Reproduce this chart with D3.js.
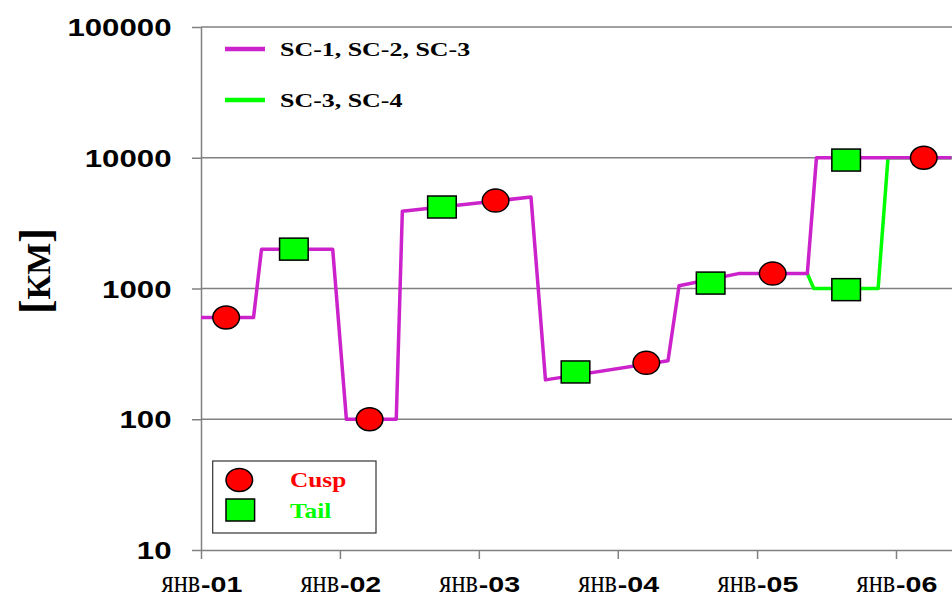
<!DOCTYPE html>
<html>
<head>
<meta charset="utf-8">
<script src="https://cdn.jsdelivr.net/npm/d3@7"></script>
<style>
  body { margin: 0; background: #fff; }
  svg { display: block; }
</style>
</head>
<body>
<svg id="chart" width="952" height="598"></svg>
<script>
// Size of the fluctuations, km (log axis), per spacecraft group
const mainDates  = ["2001-01-01","2001-05-19","2001-06-09","2001-12-13","2002-01-18","2002-05-29","2002-06-14","2003-05-18","2003-06-25","2004-05-12","2004-06-10","2004-11-13","2005-05-13","2005-06-06","2006-05-27"];
const mainValues = [600, 600, 2000, 2000, 100, 100, 3900, 5000, 200, 280, 1050, 1300, 1300, 10000, 10000];

const altDates  = ["2005-05-13","2005-05-30","2005-11-15","2005-12-11","2006-05-27"];
const altValues = [1300, 1000, 1000, 10000, 10000];

const cuspDates  = ["2001-03-08","2002-03-20","2003-02-14","2004-03-16","2005-02-11","2006-03-15"];
const cuspValues = [600, 100, 4700, 270, 1300, 10000];

const tailDates  = ["2001-09-02","2002-09-26","2003-09-12","2004-09-01","2005-08-23","2005-08-23"];
const tailValues = [2000, 4200, 230, 1100, 9600, 980];

const yTicks = [10, 100, 1000, 10000, 100000];
const xTickDates  = ["2001-01-01","2002-01-01","2003-01-01","2004-01-01","2005-01-01","2006-01-01"];
const xTickLabels = ["янв-01","янв-02","янв-03","янв-04","янв-05","янв-06"];

const seriesNames = ["SC-1, SC-2, SC-3", "SC-3, SC-4"];
const markerNames = ["Cusp", "Tail"];

const MAGENTA = "#cc22cc", GREEN = "#00ff00", RED = "#ff0000", GRID = "#808080";
const plotLeft = 201, plotRight = 952, plotTop = 27, plotBottom = 550;
const sx = 1.3; // horizontal stretch of the lettering

const parse = d3.utcParse("%Y-%m-%d");
const svg = d3.select("#chart");

const x = d3.scaleUtc()
  .domain([parse(xTickDates[0]), parse(xTickDates[xTickDates.length - 1])])
  .range([plotLeft, 896]);
const y = d3.scaleLog().domain([10, 100000]).range([plotBottom, plotTop]);

// horizontal grid lines (incl. the top frame at 100000)
svg.append("g").selectAll("line")
  .data(yTicks.filter(d => d > 10))
  .join("line")
  .attr("x1", plotLeft).attr("x2", plotRight)
  .attr("y1", d => y(d)).attr("y2", d => y(d))
  .attr("stroke", GRID).attr("stroke-width", 1.5);

// y axis
const yAxis = svg.append("g")
  .attr("transform", `translate(${plotLeft},0)`)
  .call(d3.axisLeft(y).tickValues(yTicks).tickSize(9).tickSizeOuter(0).tickFormat(d3.format("d")));
yAxis.select(".domain").attr("stroke", GRID).attr("stroke-width", 1.5);
yAxis.selectAll(".tick line").attr("stroke", GRID).attr("stroke-width", 1.5);
yAxis.selectAll(".tick text")
  .attr("x", -29.5 / sx)
  .attr("dy", "0.36em")
  .attr("transform", `scale(${sx},1)`)
  .attr("fill", "#000")
  .style("font-family", "'Liberation Sans', Arial, sans-serif")
  .style("font-weight", "bold")
  .style("font-size", "24px");

// x axis
const xAxis = svg.append("g")
  .attr("transform", `translate(0,${plotBottom})`)
  .call(d3.axisBottom(x).tickValues(xTickDates.map(parse)).tickSize(9).tickSizeOuter(0).tickFormat(""));
xAxis.select(".domain").attr("d", `M${plotLeft},0.5H${plotRight}`).attr("stroke", GRID).attr("stroke-width", 1.5);
xAxis.selectAll(".tick line").attr("stroke", GRID).attr("stroke-width", 1.5);

// x tick labels: month in serif, year in bold sans
const xl = svg.append("g").selectAll("g")
  .data(xTickDates.map((d, i) => ({ date: parse(d), label: xTickLabels[i] })))
  .join("g")
  .attr("transform", d => `translate(${x(d.date)},592)`);
xl.append("text")
  .attr("text-anchor", "end")
  .attr("transform", "scale(0.85,1)")
  .attr("x", -1)
  .style("font-family", "'Liberation Serif', 'Times New Roman', serif")
  .style("font-size", "31px")
  .text(d => d.label.slice(0, d.label.indexOf("-")));
xl.append("text")
  .attr("transform", `scale(${sx},1)`)
  .style("font-family", "'Liberation Sans', Arial, sans-serif")
  .style("font-weight", "bold")
  .style("font-size", "22px")
  .text(d => d.label.slice(d.label.indexOf("-")));

// y axis title
const yt = svg.append("text")
  .attr("transform", "translate(50,271) rotate(-90)")
  .attr("text-anchor", "middle")
  .style("font-family", "'Liberation Serif', 'Times New Roman', serif")
  .style("font-weight", "bold");
yt.append("tspan").style("font-size", "44px").text("[");
yt.append("tspan").style("font-size", "34px").text("КМ");
yt.append("tspan").style("font-size", "44px").text("]");

// data lines
svg.append("clipPath").attr("id", "plot-clip")
  .append("rect").attr("x", plotLeft).attr("y", 0).attr("width", plotRight - plotLeft).attr("height", plotBottom + 2);

const line = d3.line().x(d => x(d[0])).y(d => y(d[1]));
const plot = svg.append("g").attr("clip-path", "url(#plot-clip)");
plot.append("path")
  .datum(altDates.map((d, i) => [parse(d), altValues[i]]))
  .attr("d", line).attr("fill", "none")
  .attr("stroke", GREEN).attr("stroke-width", 3.5).attr("stroke-linejoin", "round");
plot.append("path")
  .datum(mainDates.map((d, i) => [parse(d), mainValues[i]]))
  .attr("d", line).attr("fill", "none")
  .attr("stroke", MAGENTA).attr("stroke-width", 3.5).attr("stroke-linejoin", "round");

// markers
const markers = svg.append("g");
markers.selectAll("rect")
  .data(tailDates.map((d, i) => [parse(d), tailValues[i]]))
  .join("rect")
  .attr("x", d => x(d[0]) - 14.3).attr("y", d => y(d[1]) - 11)
  .attr("width", 28.6).attr("height", 22)
  .attr("fill", GREEN).attr("stroke", "#000").attr("stroke-width", 1.5);
markers.selectAll("ellipse")
  .data(cuspDates.map((d, i) => [parse(d), cuspValues[i]]))
  .join("ellipse")
  .attr("cx", d => x(d[0])).attr("cy", d => y(d[1]))
  .attr("rx", 13.3).attr("ry", 11.5)
  .attr("fill", RED).attr("stroke", "#000").attr("stroke-width", 1.5);

// line legend
const lineLegend = svg.append("g").selectAll("g")
  .data(seriesNames.map((n, i) => ({ name: n, color: [MAGENTA, GREEN][i], y: [49, 100][i] })))
  .join("g")
  .attr("transform", d => `translate(225,${d.y})`);
lineLegend.append("line")
  .attr("x1", 0).attr("x2", 40)
  .attr("stroke", d => d.color).attr("stroke-width", 4.5);
lineLegend.append("text")
  .attr("transform", "translate(55,7) scale(1.33,1)")
  .style("font-family", "'Liberation Serif', 'Times New Roman', serif")
  .style("font-weight", "bold")
  .style("font-size", "19.5px")
  .text(d => d.name);

// marker legend
const ml = svg.append("g");
ml.append("rect")
  .attr("x", 212.7).attr("y", 461).attr("width", 163.3).attr("height", 72)
  .attr("fill", "#fff").attr("stroke", "#333").attr("stroke-width", 1.2);
ml.append("ellipse")
  .attr("cx", 239.3).attr("cy", 480).attr("rx", 13.3).attr("ry", 11.5)
  .attr("fill", RED).attr("stroke", "#000").attr("stroke-width", 1.5);
ml.append("rect")
  .attr("x", 226).attr("y", 499).attr("width", 28.6).attr("height", 22)
  .attr("fill", GREEN).attr("stroke", "#000").attr("stroke-width", 1.5);
ml.selectAll("text")
  .data(markerNames.map((n, i) => ({ name: n, color: [RED, GREEN][i], y: [486.7, 518][i] })))
  .join("text")
  .attr("transform", d => `translate(290,${d.y}) scale(1.15,1)`)
  .attr("fill", d => d.color)
  .style("font-family", "'Liberation Serif', 'Times New Roman', serif")
  .style("font-weight", "bold")
  .style("font-size", "22px")
  .text(d => d.name);
</script>
</body>
</html>
